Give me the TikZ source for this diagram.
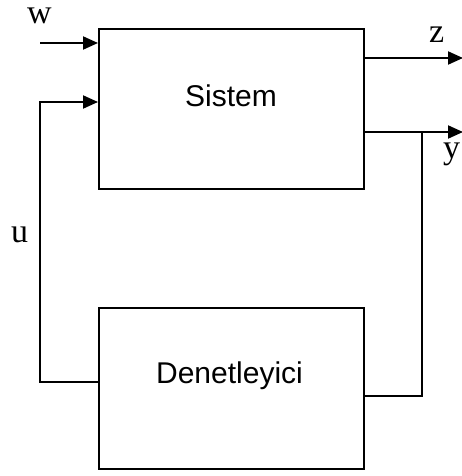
\documentclass[tikz,border=0pt]{standalone}
\usepackage{fontspec}
\setmainfont{Liberation Serif}
\setsansfont{Liberation Sans}
\usetikzlibrary{arrows.meta}
\begin{document}
\begin{tikzpicture}[x=1pt,y=-1pt,
  blk/.style={draw,line width=2pt,rectangle,inner sep=0pt},
  wire/.style={line width=2pt},
  sig/.style={wire,-{Triangle[length=15pt,width=13pt]}},
  lbl/.style={font=\fontsize{30}{30}\sffamily\selectfont,inner sep=0pt},
  var/.style={font=\fontsize{34}{34}\selectfont,inner sep=0pt,anchor=base west,text height=16pt,text depth=0pt}]
\useasboundingbox (0,0) rectangle (461,476);
\node[blk,minimum width=265pt,minimum height=160pt] (sys) at (231.5,109) {};
\node[lbl] (sysT) at (231,96) {Sistem};
\node[blk,minimum width=265pt,minimum height=161pt] (ctl) at (231.5,388.5) {};
\node[lbl] (ctlT) at (229.5,376) {Denetleyici};
% coordinates
\coordinate (win) at (40,43);
\coordinate (wend) at (sys.west |- win);
\coordinate (uin) at (sys.west |- 0,102);
\coordinate (uout) at (ctl.west |- 0,382);
\coordinate (uleft) at (40,382);
\coordinate (zstart) at (sys.east |- 0,58);
\coordinate (zend) at (463,58);
\coordinate (ystart) at (sys.east |- 0,132);
\coordinate (yend) at (463,132);
\coordinate (ybr) at (422,132);
\coordinate (ydown) at (422,396);
\coordinate (cin) at (ctl.east |- 0,396);
\draw[sig] (win) -- (wend);
\draw[sig] (uout) -- (uleft) |- (uin);
\draw[sig] (zstart) -- (zend);
\draw[sig] (ystart) -- (yend);
\draw[wire] (ybr) -- (ydown) -- (cin);
% labels
\node[var] (wl) at (27,24) {w};
\node[var] (zl) at (429,43) {z};
\node[var,text height=23pt] (yl) at (443,158) {y};
\node[var] (ul) at (11,242) {u};
\end{tikzpicture}
\end{document}
